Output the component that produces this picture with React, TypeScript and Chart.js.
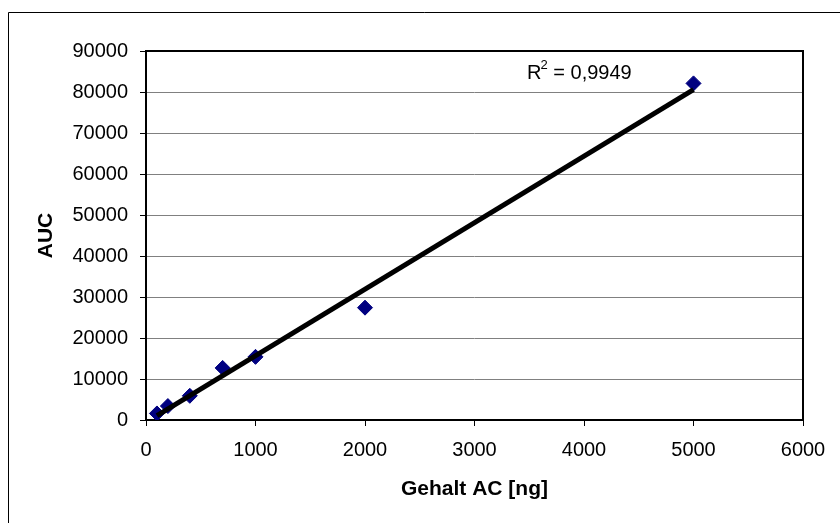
import React, { useEffect, useRef } from "react";
import { Chart, registerables } from "chart.js";

Chart.register(...registerables);

// Data
const gehaltNg = [100, 200, 400, 700, 1000, 2000, 5000];
const aucValues = [1600, 3400, 5900, 12700, 15400, 27400, 82100];
const xTickMax = 6000;
const xTickStep = 1000;
const yTickMax = 90000;
const yTickStep = 10000;
const r2Text = "0,9949";
const xTitle = "Gehalt AC [ng]";
const yTitle = "AUC";

const FONT = "'Liberation Sans', Arial, Helvetica, sans-serif";

function linearFit(xs: number[], ys: number[]) {
  const n = xs.length;
  const mx = xs.reduce((a, b) => a + b, 0) / n;
  const my = ys.reduce((a, b) => a + b, 0) / n;
  let sxx = 0;
  let sxy = 0;
  for (let i = 0; i < n; i++) {
    sxx += (xs[i] - mx) * (xs[i] - mx);
    sxy += (xs[i] - mx) * (ys[i] - my);
  }
  const slope = sxy / sxx;
  return { slope, intercept: my - slope * mx };
}

const framePlugin = {
  id: "frame",
  beforeDraw(chart: any) {
    const ctx = chart.ctx;
    ctx.save();
    ctx.fillStyle = "#ffffff";
    ctx.fillRect(0, 0, chart.width, chart.height);
    ctx.strokeStyle = "#000000";
    ctx.lineWidth = 1;
    ctx.beginPath();
    ctx.moveTo(8.5, chart.height);
    ctx.lineTo(8.5, 12.5);
    ctx.lineTo(chart.width, 12.5);
    ctx.stroke();
    ctx.restore();
  },
  beforeDatasetsDraw(chart: any) {
    const { ctx, chartArea } = chart;
    ctx.save();
    ctx.strokeStyle = "#000000";
    ctx.lineWidth = 2;
    ctx.strokeRect(
      chartArea.left,
      chartArea.top,
      chartArea.right - chartArea.left,
      chartArea.bottom - chartArea.top
    );
    ctx.restore();
  },
  afterDraw(chart: any) {
    const { ctx, chartArea } = chart;
    ctx.save();
    ctx.fillStyle = "#000000";
    ctx.textBaseline = "alphabetic";
    const x0 = chartArea.left + (chartArea.right - chartArea.left) * 0.58;
    const base = chartArea.top + 28;
    ctx.font = `20px ${FONT}`;
    ctx.fillText("R", x0, base);
    const wR = ctx.measureText("R").width;
    ctx.font = `13px ${FONT}`;
    ctx.fillText("2", x0 + wR - 1, base - 10);
    const w2 = ctx.measureText("2").width;
    ctx.font = `20px ${FONT}`;
    ctx.fillText(" = " + r2Text, x0 + wR - 1 + w2, base);
    ctx.restore();
  },
};

export default function App() {
  const ref = useRef<HTMLCanvasElement | null>(null);

  useEffect(() => {
    if (!ref.current) return;
    const fit = linearFit(gehaltNg, aucValues);
    const xStart = gehaltNg[0];
    const xEnd = gehaltNg[gehaltNg.length - 1];
    const trend = [
      { x: xStart, y: fit.slope * xStart + fit.intercept },
      { x: xEnd, y: fit.slope * xEnd + fit.intercept },
    ];
    const points = gehaltNg.map((x, i) => ({ x, y: aucValues[i] }));

    const chart = new Chart(ref.current, {
      type: "scatter",
      data: {
        datasets: [
          {
            type: "line",
            label: "Trend",
            data: trend,
            borderColor: "#000000",
            borderWidth: 5,
            pointRadius: 0,
            fill: false,
            order: 0,
          } as any,
          {
            label: "AUC",
            data: points,
            pointStyle: "rectRot",
            pointRadius: 7.5,
            backgroundColor: "#000080",
            borderColor: "#000080",
            borderWidth: 1,
            order: 1,
          },
        ],
      },
      options: {
        responsive: false,
        animation: false,
        layout: { padding: { left: 0, right: 37, top: 51, bottom: 20 } },
        plugins: {
          legend: { display: false },
          tooltip: { enabled: false },
        },
        scales: {
          x: {
            type: "linear",
            min: 0,
            max: xTickMax,
            ticks: {
              stepSize: xTickStep,
              color: "#000000",
              padding: 12,
              font: { family: FONT, size: 20 },
              callback: (v: any) => String(v),
            },
            grid: {
              drawOnChartArea: false,
              drawTicks: true,
              tickLength: 6,
              tickColor: "#000000",
              lineWidth: 1,
            },
            border: { display: false },
            title: {
              display: true,
              text: xTitle,
              color: "#000000",
              font: { family: FONT, size: 21, weight: "bold" },
              padding: { top: 0, bottom: 1 },
            },
            afterFit: (scale: any) => {
              scale.height = 83;
            },
          },
          y: {
            type: "linear",
            min: 0,
            max: yTickMax,
            ticks: {
              stepSize: yTickStep,
              color: "#000000",
              padding: 12,
              font: { family: FONT, size: 20 },
              callback: (v: any) => String(v),
            },
            grid: {
              color: "#808080",
              lineWidth: 1,
              drawTicks: true,
              tickLength: 6,
              tickColor: "#000000",
            },
            border: { display: false },
            title: {
              display: true,
              text: yTitle,
              color: "#000000",
              font: { family: FONT, size: 21, weight: "bold" },
              padding: { top: 34, bottom: 0 },
            },
            afterFit: (scale: any) => {
              scale.width = 146;
            },
          },
        },
      } as any,
      plugins: [framePlugin],
    });
    return () => chart.destroy();
  }, []);

  return (
    <div style={{ position: "absolute", left: 0, top: 0, width: 840, height: 523 }}>
      <canvas ref={ref} width={840} height={523} style={{ width: 840, height: 523, display: "block" }} />
    </div>
  );
}
